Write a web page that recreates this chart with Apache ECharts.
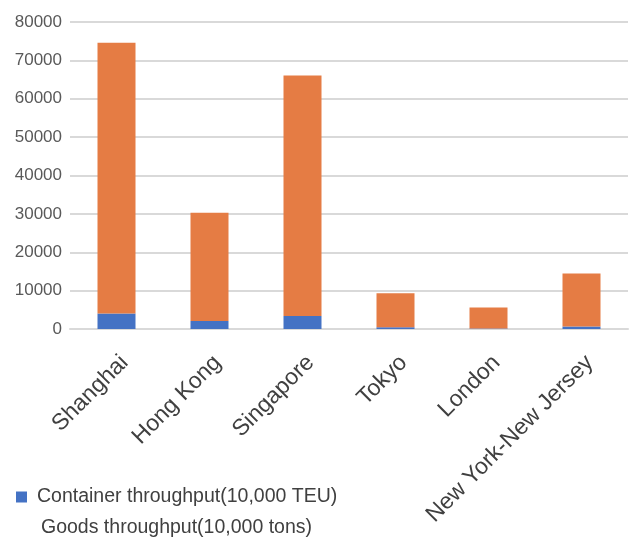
<!DOCTYPE html>
<html>
<head>
<meta charset="utf-8">
<script src="https://cdn.jsdelivr.net/npm/echarts@6/dist/echarts.min.js"></script>
<style>
  html, body { margin: 0; padding: 0; background: #ffffff; }
  #chart { width: 630px; height: 540px; }
</style>
</head>
<body>
<div id="chart"></div>
<script>
// Ports compared by container and goods throughput
const ports = ['Shanghai', 'Hong Kong', 'Singapore', 'Tokyo', 'London', 'New York-New Jersey'];
const containerThroughput = [4023, 2076, 3367, 450, 100, 671];      // 10,000 TEU
const goodsThroughput = [70542, 28200, 62700, 8850, 5500, 13800];   // 10,000 tons
const yTicks = [0, 10000, 20000, 30000, 40000, 50000, 60000, 70000, 80000];

const seriesNames = ['Container throughput(10,000 TEU)', 'Goods throughput(10,000 tons)'];
const FONT = 'Liberation Sans, Arial, sans-serif';

const chart = echarts.init(document.getElementById('chart'), null, { renderer: 'canvas' });
chart.setOption({
  animation: false,
  backgroundColor: '#ffffff',
  grid: { left: 70, right: 2, top: 22, bottom: 211, containLabel: false },
  legend: {
    orient: 'vertical',
    left: 16,
    top: 487,
    padding: 0,
    itemWidth: 11,
    itemHeight: 11,
    itemGap: 11,
    icon: 'rect',
    textStyle: { fontFamily: FONT, fontSize: 19.5, color: '#404040', padding: [0, 0, 0, 5] },
    data: [
      { name: seriesNames[0] },
      { name: seriesNames[1], itemStyle: { opacity: 0 },
        textStyle: { padding: [0, 0, 0, 9] } }
    ]
  },
  xAxis: {
    type: 'category',
    data: ports,
    axisLine: { show: true, lineStyle: { color: '#d9d9d9', width: 2 } },
    axisTick: { show: false },
    axisLabel: {
      interval: 0,
      rotate: 45,
      margin: 22,
      verticalAlign: 'top',
      fontFamily: FONT,
      fontSize: 23,
      color: '#404040'
    }
  },
  yAxis: {
    type: 'value',
    min: yTicks[0],
    max: yTicks[yTicks.length - 1],
    interval: yTicks[1] - yTicks[0],
    axisLine: { show: false },
    axisTick: { show: false },
    splitLine: { lineStyle: { color: '#d9d9d9', width: 2 } },
    axisLabel: {
      fontFamily: FONT, fontSize: 17, color: '#595959', margin: 8,
      formatter: (v) => String(v)
    }
  },
  series: [
    {
      name: seriesNames[0],
      type: 'bar',
      stack: 'total',
      barWidth: 38,
      itemStyle: { color: '#4472c4' },
      data: containerThroughput
    },
    {
      name: seriesNames[1],
      type: 'bar',
      stack: 'total',
      barWidth: 38,
      itemStyle: { color: '#e57c44' },
      data: goodsThroughput
    }
  ]
});
</script>
</body>
</html>
